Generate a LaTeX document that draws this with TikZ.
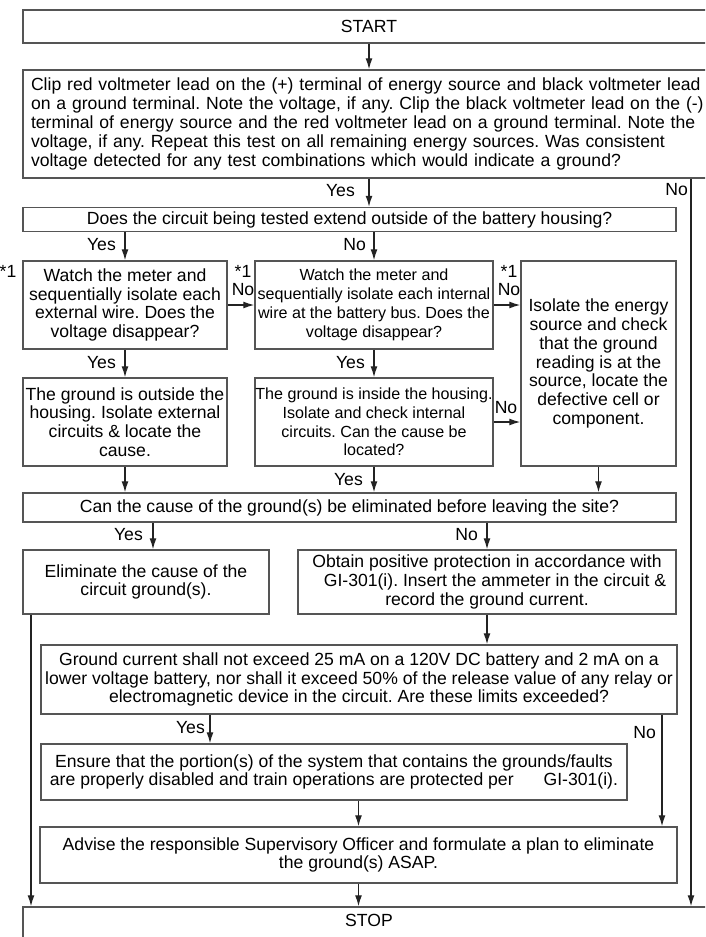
\documentclass[tikz,border=0pt]{standalone}
\usepackage{fontspec}
\setmainfont{Liberation Sans}
\usetikzlibrary{arrows.meta,positioning,calc}
\definecolor{edgegray}{RGB}{85,85,85}
\definecolor{linegray}{RGB}{35,35,35}
\frenchspacing

\begin{document}
\begin{tikzpicture}[x=1pt, y=-1pt, >={Latex[length=11pt,width=7pt]}, font=\fontsize{17.6}{18.8}\selectfont]
  \tikzstyle{box}=[rectangle, draw=edgegray, line width=1.5pt, inner sep=0pt, align=center]
  \tikzstyle{small}=[font=\fontsize{16.1}{18.8}\selectfont]
  \tikzstyle{lbl}=[inner sep=0pt]
  \tikzstyle{flow}=[->, draw=linegray, line width=1.3pt]
  \clip (0,0) rectangle (705,937);

  % boxes
  \node[box, minimum width=692, minimum height=33] (start) at (369,26.5) {START};
  \node[box, minimum width=692, minimum height=108, text width=676, inner xsep=8pt, align=left] (main) at (369,124)
    {Clip red voltmeter lead on the (+) terminal of energy source and black voltmeter lead\\
     on a ground terminal. Note the voltage, if any. Clip the black voltmeter lead on the (-)\\
     terminal of energy source and the red voltmeter lead on a ground terminal. Note the\\
     voltage, if any. Repeat this test on all remaining energy sources. Was consistent\\
     voltage detected for any test combinations which would indicate a ground?};
  \node[box, minimum width=653, minimum height=24] (outside) at (349.5,219.5)
    {Does the circuit being tested extend outside of the battery housing?};
  \node[box, minimum width=204, minimum height=88] (extwire) at (125,305)
    {Watch the meter and\\ sequentially isolate each\\ external wire. Does the\\ voltage disappear?};
  \node[box, small, minimum width=238, minimum height=88] (intwire) at (374,305)
    {Watch the meter and\\ sequentially isolate each internal\\ wire at the battery bus. Does the\\ voltage disappear?};
  \node[box, minimum width=155, minimum height=205] (source) at (598.5,363.5)
    {Isolate the energy\\ source and check\\ that the ground\\ reading is at the\\ source, locate the\\ defective cell or\\ component.};
  \node[box, minimum width=204, minimum height=88] (gndout) at (125,422)
    {The ground is outside the\\ housing. Isolate external\\ circuits \& locate the\\ cause.};
  \node[box, small, minimum width=238, minimum height=88] (gndin) at (374,422)
    {The ground is inside the housing.\\ Isolate and check internal\\ circuits. Can the cause be\\ located?};
  \node[box, minimum width=653, minimum height=29] (onsite) at (349.5,507.5)
    {Can the cause of the ground(s) be eliminated before leaving the site?};
  \node[box, minimum width=246, minimum height=64] (fix) at (146,582)
    {Eliminate the cause of the\\ circuit ground(s).};
  \node[box, minimum width=378, minimum height=64] (protect) at (487,582)
    {Obtain positive protection in accordance with\\
     \hspace*{16pt}GI-301(i). Insert the ammeter in the circuit \&\\ record the ground current.};
  \node[box, minimum width=636, minimum height=69] (limits) at (359,679.5)
    {Ground current shall not exceed 25 mA on a 120V DC battery and 2 mA on a\\
     lower voltage battery, nor shall it exceed 50\% of the release value of any relay or\\
     electromagnetic device in the circuit. Are these limits exceeded?};
  \node[box, minimum width=586, minimum height=56] (disable) at (334,772)
    {Ensure that the portion(s) of the system that contains the grounds/faults\\
     are properly disabled and train operations are protected per\hspace{30pt}GI-301(i).};
  \node[box, minimum width=637, minimum height=56] (advise) at (358.5,855)
    {Advise the responsible Supervisory Officer and formulate a plan to eliminate\\ the ground(s) ASAP.};
  \node[box, minimum width=692, minimum height=53] (stop) at (369,933.5) {};
  \node[lbl] (stoptxt) at (369,920) {STOP};

  % free ends of the side lines
  \coordinate (rightx) at (691,0);
  \coordinate (leftx) at (31,0);
  \coordinate (yesx) at (210,0);
  \coordinate (nox) at (662,0);

  % connectors
  \draw[flow] (start) -- (main);
  \draw[flow] (main.south) -- (main.south |- outside.north);
  \draw[flow] (main.south -| rightx) -- (stop.north -| rightx);
  \draw[flow] (outside.south -| extwire) -- (extwire.north);
  \draw[flow] (outside.south -| intwire) -- (intwire.north);
  \draw[flow] (extwire) -- (intwire);
  \draw[flow] (intwire.east) -- (intwire.east -| source.west);
  \draw[flow] (extwire) -- (gndout);
  \draw[flow] (intwire) -- (gndin);
  \draw[flow] (gndin.east) -- (gndin.east -| source.west);
  \draw[flow] (gndout.south) -- (gndout.south |- onsite.north);
  \draw[flow] (gndin.south) -- (gndin.south |- onsite.north);
  \draw[flow] (source.south) -- (source.south |- onsite.north);
  \draw[flow] ([xshift=7pt]fix.north |- onsite.south) -- ([xshift=7pt]fix.north);
  \draw[flow] (protect.north |- onsite.south) -- (protect.north);
  \draw[flow] (protect) -- (protect.south |- limits.north);
  \draw[flow] (fix.south -| leftx) -- (stop.north -| leftx);
  \draw[flow] (limits.south -| yesx) -- (disable.north -| yesx);
  \draw[flow] (limits.south -| nox) -- (advise.north -| nox);
  \draw[flow] (disable.south -| advise) -- (advise.north);
  \draw[flow] (advise) -- (advise.south |- stop.north);

  % labels
  \node[lbl, anchor=east] (yes1) at (355,191) {Yes};
  \node[lbl, anchor=east] (no1) at (688,190) {No};
  \node[lbl, anchor=east] (yes2) at (116,245) {Yes};
  \node[lbl, anchor=east] (no2) at (366,245) {No};
  \node[lbl] (mark1) at (8,271) {*1};
  \node[lbl] (mark2) at (243,271) {*1};
  \node[lbl] (no3) at (243,290) {No};
  \node[lbl] (mark3) at (509,271) {*1};
  \node[lbl] (no4) at (509,290) {No};
  \node[lbl, anchor=east] (yes3) at (116,363) {Yes};
  \node[lbl, anchor=east] (yes4) at (365,363) {Yes};
  \node[lbl] (no5) at (506,408) {No};
  \node[lbl, anchor=east] (yes5) at (363,480) {Yes};
  \node[lbl, anchor=east] (yes6) at (143,535) {Yes};
  \node[lbl, anchor=east] (no6) at (478,535) {No};
  \node[lbl, anchor=east] (yes7) at (205,728) {Yes};
  \node[lbl, anchor=east] (no7) at (656,733) {No};
\end{tikzpicture}
\end{document}
